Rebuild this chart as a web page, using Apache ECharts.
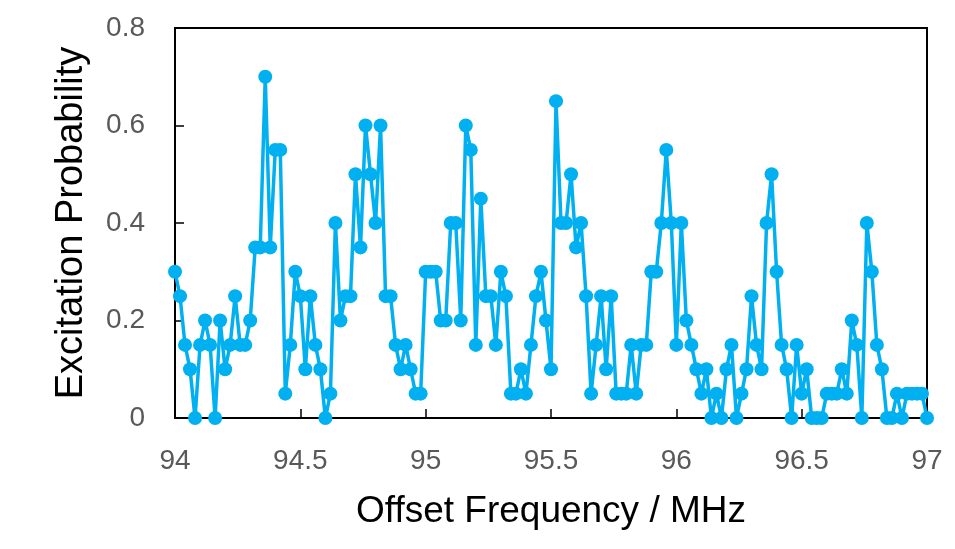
<!DOCTYPE html>
<html>
<head>
<meta charset="utf-8">
<script src="https://cdn.jsdelivr.net/npm/echarts@6/dist/echarts.min.js"></script>
<style>
  html, body { margin: 0; padding: 0; background: #fff; }
  #chart { width: 955px; height: 549px; }
</style>
</head>
<body>
<div id="chart"></div>
<script>
  // 频率点：94.00 ~ 97.00 MHz，步长 0.02
  var freqStart = 94.0;
  var freqStep = 0.02;
  // 激发概率
  var probability = [
    0.3, 0.25, 0.15, 0.1, 0, 0.15, 0.2, 0.15, 0, 0.2,
    0.1, 0.15, 0.25, 0.15, 0.15, 0.2, 0.35, 0.35, 0.7, 0.35,
    0.55, 0.55, 0.05, 0.15, 0.3, 0.25, 0.1, 0.25, 0.15, 0.1,
    0, 0.05, 0.4, 0.2, 0.25, 0.25, 0.5, 0.35, 0.6, 0.5,
    0.4, 0.6, 0.25, 0.25, 0.15, 0.1, 0.15, 0.1, 0.05, 0.05,
    0.3, 0.3, 0.3, 0.2, 0.2, 0.4, 0.4, 0.2, 0.6, 0.55,
    0.15, 0.45, 0.25, 0.25, 0.15, 0.3, 0.25, 0.05, 0.05, 0.1,
    0.05, 0.15, 0.25, 0.3, 0.2, 0.1, 0.65, 0.4, 0.4, 0.5,
    0.35, 0.4, 0.25, 0.05, 0.15, 0.25, 0.1, 0.25, 0.05, 0.05,
    0.05, 0.15, 0.05, 0.15, 0.15, 0.3, 0.3, 0.4, 0.55, 0.4,
    0.15, 0.4, 0.2, 0.15, 0.1, 0.05, 0.1, 0, 0.05, 0,
    0.1, 0.15, 0, 0.05, 0.1, 0.25, 0.15, 0.1, 0.4, 0.5,
    0.3, 0.15, 0.1, 0, 0.15, 0.05, 0.1, 0, 0, 0,
    0.05, 0.05, 0.05, 0.1, 0.05, 0.2, 0.15, 0, 0.4, 0.3,
    0.15, 0.1, 0, 0, 0.05, 0, 0.05, 0.05, 0.05, 0.05,
    0
  ];
  var xTicks = { min: 94, max: 97, interval: 0.5 };
  var yTicks = { min: 0, max: 0.8, interval: 0.2 };

  var data = probability.map(function (p, i) {
    return [+(freqStart + i * freqStep).toFixed(2), p];
  });

  var chart = echarts.init(document.getElementById('chart'), null, { renderer: 'canvas' });
  var labelFont = '"Liberation Sans", Arial, sans-serif';

  var option = {
    animation: false,
    backgroundColor: '#fff',
    grid: {
      left: 175,
      right: 28,
      top: 28,
      bottom: 131,
      show: true,
      borderColor: '#000',
      borderWidth: 2
    },
    xAxis: {
      type: 'value',
      min: xTicks.min,
      max: xTicks.max,
      interval: xTicks.interval,
      name: 'Offset Frequency / MHz',
      nameLocation: 'middle',
      nameGap: 75,
      nameTextStyle: { fontSize: 37, color: '#000', fontFamily: labelFont },
      axisLine: { lineStyle: { color: '#000', width: 2 } },
      axisTick: { inside: true, length: 9, lineStyle: { color: '#000', width: 1.5 } },
      axisLabel: { margin: 29, fontSize: 28, color: '#595959', fontFamily: labelFont },
      splitLine: { show: false }
    },
    yAxis: {
      type: 'value',
      min: yTicks.min,
      max: yTicks.max,
      interval: yTicks.interval,
      name: 'Excitation Probability',
      nameLocation: 'middle',
      nameGap: 84,
      nameTextStyle: { fontSize: 38, color: '#000', fontFamily: labelFont },
      axisLine: { show: true, lineStyle: { color: '#000', width: 2 } },
      axisTick: { show: true, inside: true, length: 9, lineStyle: { color: '#000', width: 1.5 } },
      axisLabel: { margin: 30, fontSize: 28, color: '#595959', fontFamily: labelFont },
      splitLine: { show: false }
    },
    series: [{
      type: 'line',
      data: data,
      symbol: 'circle',
      symbolSize: 14,
      showAllSymbol: true,
      itemStyle: { color: '#00B0F0' },
      lineStyle: { color: '#00B0F0', width: 3.5 },
      z: 3
    }]
  };
  chart.setOption(option);
</script>
</body>
</html>
